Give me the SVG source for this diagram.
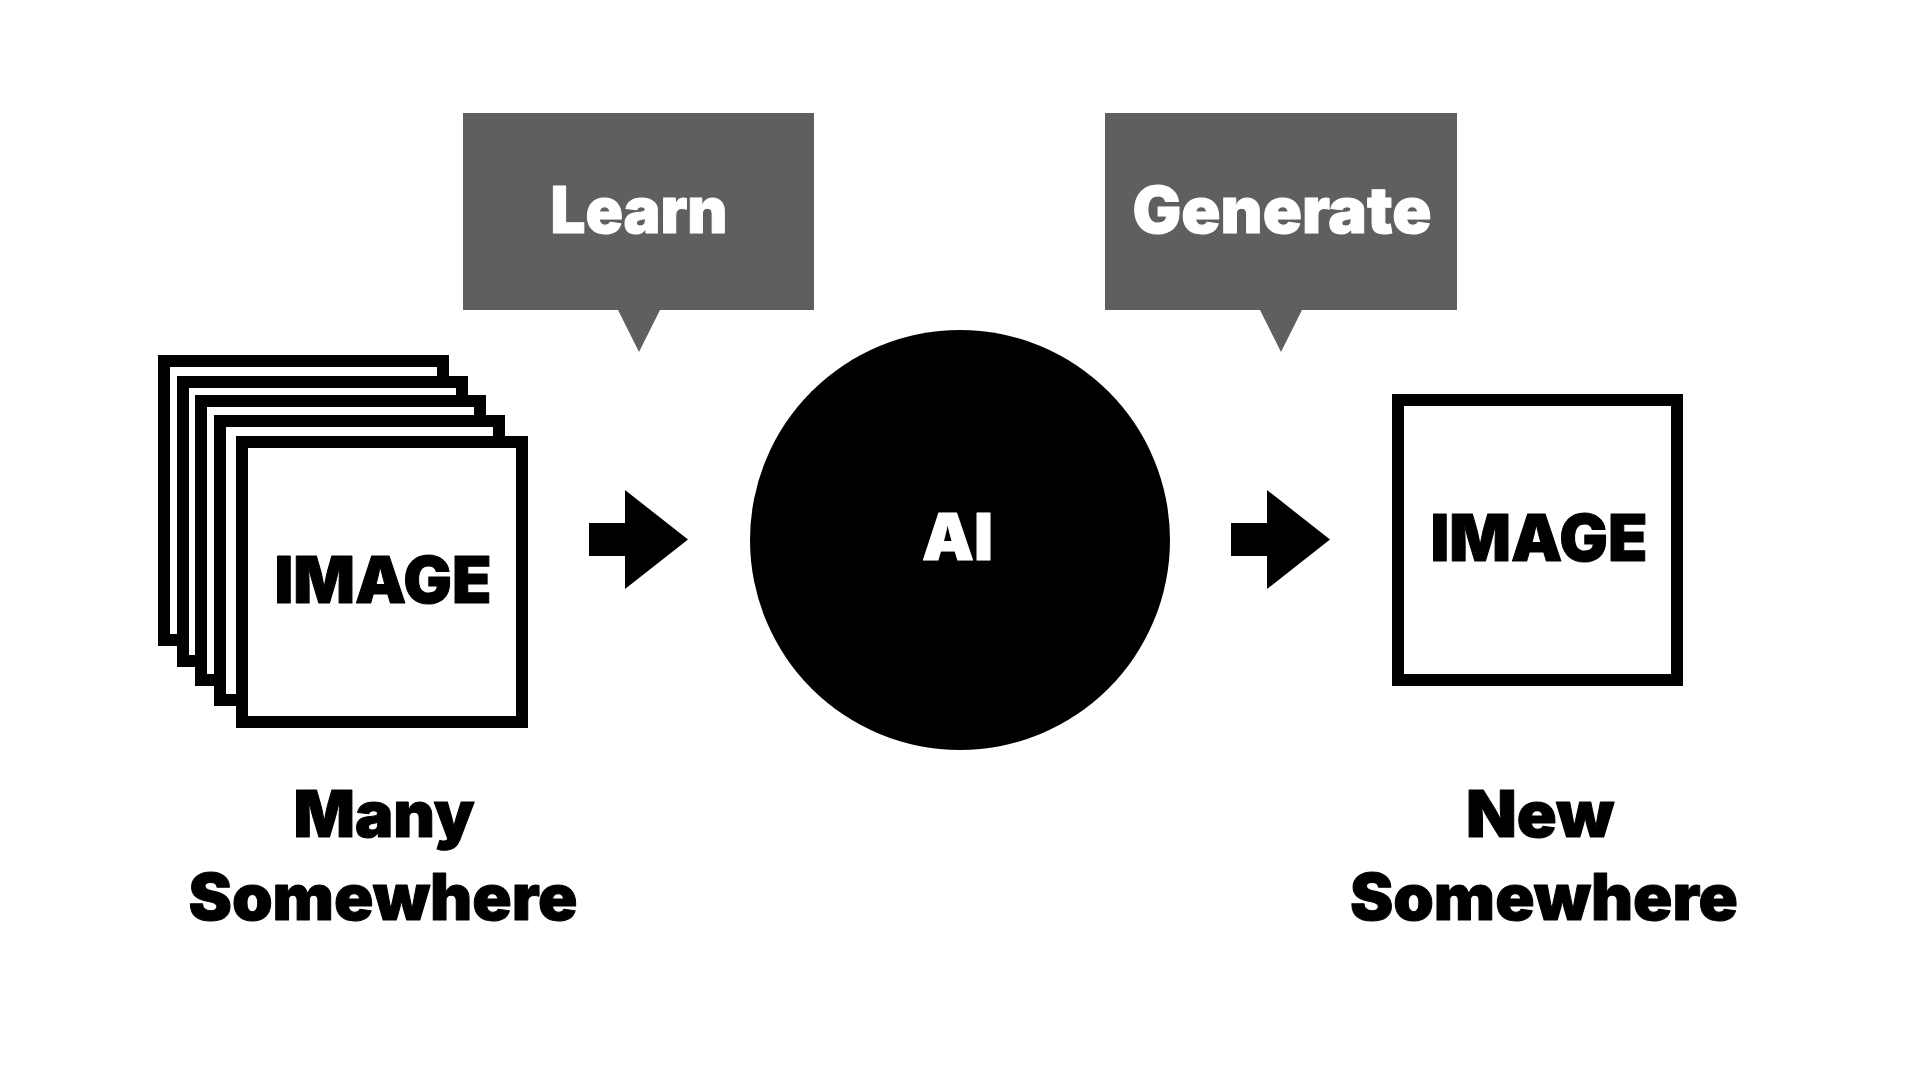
<svg xmlns="http://www.w3.org/2000/svg" width="1920" height="1080" viewBox="0 0 1920 1080">
  <style>
    .frame { fill: #ffffff; stroke: #000000; stroke-width: 12; }
    .bubble { fill: #5f5f5f; }
    .t { font-family: Inter, Lato, "DejaVu Sans", sans-serif; font-weight: 900; font-size: 64px; text-anchor: middle; stroke-width: 1; stroke-linejoin: round; }
    .dark { fill: #000000; stroke: #000000; }
    .light { fill: #ffffff; stroke: #ffffff; }
    .arrow { fill: #000000; }
  </style>
  <rect x="0" y="0" width="1920" height="1080" fill="#ffffff"/>

  <g id="many-images">
    <rect class="frame" x="164" y="361" width="279" height="279"/>
    <rect class="frame" x="183" y="382" width="279" height="279"/>
    <rect class="frame" x="201" y="401" width="279" height="279"/>
    <rect class="frame" x="220" y="421" width="279" height="279"/>
    <rect class="frame" x="242" y="442" width="280" height="280"/>
    <text class="t dark" x="383" y="603" textLength="217" lengthAdjust="spacingAndGlyphs">IMAGE</text>
  </g>

  <g id="learn-bubble">
    <path class="bubble" d="M463,113 H814 V310 H660 L639,352 L618,310 H463 Z"/>
    <text class="t light" x="639" y="233" textLength="177" lengthAdjust="spacingAndGlyphs">Learn</text>
  </g>

  <g id="generate-bubble">
    <path class="bubble" d="M1105,113 H1457 V310 H1302 L1281,352 L1260,310 H1105 Z"/>
    <text class="t light" x="1282" y="233" textLength="299" lengthAdjust="spacingAndGlyphs">Generate</text>
  </g>

  <g id="ai">
    <circle cx="960" cy="540" r="210" fill="#000000"/>
    <text class="t light" x="957.5" y="560" textLength="71" lengthAdjust="spacingAndGlyphs">AI</text>
  </g>

  <g id="new-image">
    <rect class="frame" x="1398" y="400" width="279" height="280"/>
    <text class="t dark" x="1539" y="561" textLength="217" lengthAdjust="spacingAndGlyphs">IMAGE</text>
  </g>

  <g id="label-many">
    <text class="t dark" x="384" y="837" textLength="181" lengthAdjust="spacingAndGlyphs">Many</text>
    <text class="t dark" x="383" y="920" textLength="389" lengthAdjust="spacingAndGlyphs">Somewhere</text>
  </g>

  <g id="label-new">
    <text class="t dark" x="1540" y="837" textLength="148" lengthAdjust="spacingAndGlyphs">New</text>
    <text class="t dark" x="1544" y="920" textLength="388" lengthAdjust="spacingAndGlyphs">Somewhere</text>
  </g>

  <g id="connectors">
    <path class="arrow" d="M589,523 H625 V490 L688,539.5 L625,589 V556 H589 Z"/>
    <path class="arrow" d="M1231,523 H1267 V490 L1330,539.5 L1267,589 V556 H1231 Z"/>
  </g>
</svg>
